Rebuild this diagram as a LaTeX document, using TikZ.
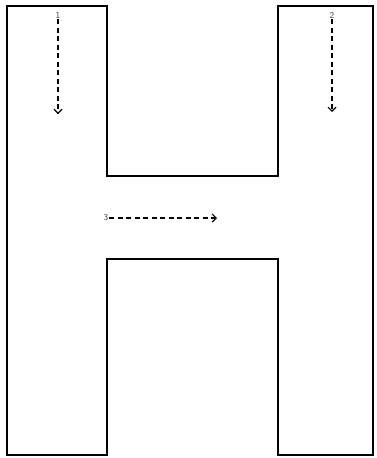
\documentclass[tikz,border=0pt]{standalone}
\usepackage{tikz}
\usetikzlibrary{positioning, arrows.meta}

\begin{document}
\begin{tikzpicture}[
    x=1pt, y=-1pt,
    wall/.style={draw, black, line width=1.5pt, line join=miter},
    flow/.style={->, >={Straight Barb[length=4pt, width=8pt, line width=1.1pt]}, dash pattern=on 5pt off 3.5pt, line width=1.2pt},
    tag/.style={inner sep=0.8pt, font=\sffamily\fontsize{9}{9}\selectfont, text=black!75}
]
    \useasboundingbox (0,0) rectangle (377,458);
    % outline of the H
    \draw[wall] (7,6) -- (107,6) -- (107,176) -- (278,176) -- (278,6) -- (373,6)
        -- (373,455) -- (278,455) -- (278,259) -- (107,259) -- (107,455) -- (7,455) -- cycle;
    % labels and flows
    \node[tag] (1) at (58,15) {1};
    \node[tag] (2) at (332,15) {2};
    \node[tag] (3) at (106,218) {3};
    \coordinate (end1) at (58,114);
    \coordinate (end2) at (332,112);
    \coordinate (end3) at (217,218);
    \draw[flow] (1) -- (end1);
    \draw[flow] (2) -- (end2);
    \draw[flow] (3) -- (end3);
\end{tikzpicture}
\end{document}
